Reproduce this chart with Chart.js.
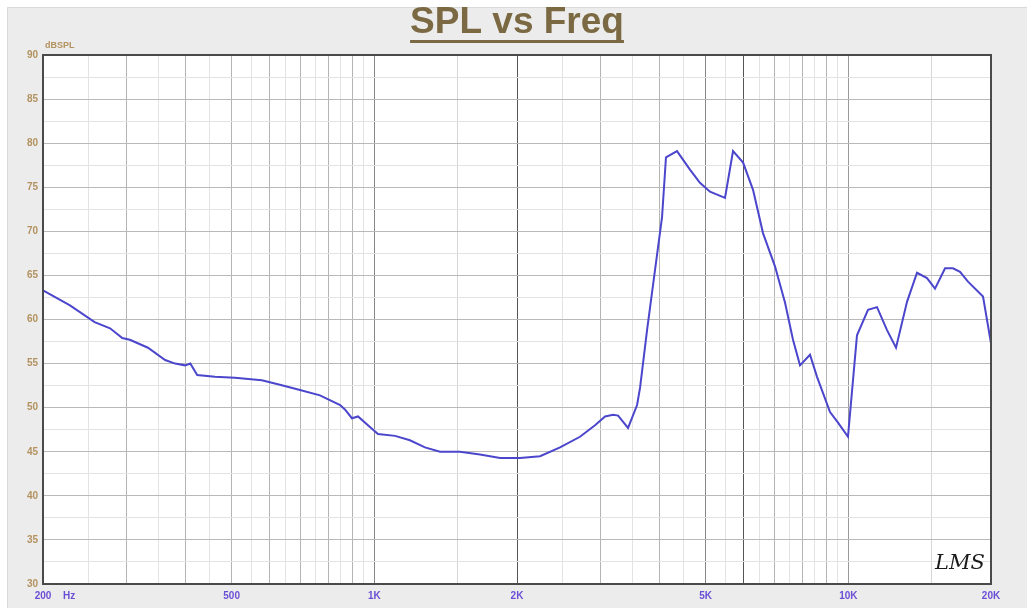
<!DOCTYPE html>
<html>
<head>
<meta charset="utf-8">
<script src="https://cdn.jsdelivr.net/npm/chart.js@4.4.1/dist/chart.umd.min.js"></script>
<style>
  html, body { margin: 0; padding: 0; background: #ffffff; }
  #wrap { width: 1027px; height: 608px; }
</style>
</head>
<body>
<div id="wrap"><canvas id="spl"></canvas></div>
<script>
// Frequency (Hz) and level (dB SPL).
const freqs = [200, 228, 257, 277, 294, 305, 333, 362, 380, 399, 409, 423, 461, 508, 579, 632, 697, 768,
  847, 867, 897, 924, 979, 1018, 1106, 1189, 1279, 1376, 1516, 1671, 1842, 2030, 2237, 2465, 2716, 2922,
  3068, 3189, 3268, 3430, 3584, 3637, 3762, 3910, 4046, 4124, 4351, 4634, 4864, 5107, 5494, 5712, 5998,
  6295, 6607, 7006, 7354, 7644, 7908, 8302, 8590, 9150, 9512, 9984, 10430, 11004, 11496, 12070, 12608,
  13300, 13962, 14656, 15238, 16000, 16626, 17206, 17886, 19240, 20000];
const spl = [63.3, 61.6, 59.7, 59.0, 57.9, 57.7, 56.8, 55.4, 55.0, 54.8, 55.0, 53.7, 53.5, 53.4, 53.1, 52.6, 52.0, 51.4,
  50.3, 49.8, 48.8, 49.0, 47.8, 47.0, 46.8, 46.3, 45.5, 45.0, 45.0, 44.7, 44.3, 44.3, 44.5, 45.5, 46.7, 48.0,
  49.0, 49.2, 49.1, 47.7, 50.3, 52.3, 58.8, 65.6, 71.6, 78.4, 79.1, 77.0, 75.5, 74.5, 73.8, 79.1, 77.8,
  74.7, 69.8, 66.0, 61.9, 57.7, 54.8, 56.0, 53.5, 49.5, 48.3, 46.7, 58.2, 61.1, 61.4, 58.8, 56.8,
  62.0, 65.3, 64.7, 63.5, 65.8, 65.8, 65.4, 64.3, 62.6, 57.3];

// Grid / tick positions
const xGrid = [200, 250, 300, 350, 400, 450, 500, 550, 600, 650, 700, 750, 800, 850, 900, 950, 1000,
  1500, 2000, 2500, 3000, 3500, 4000, 4500, 5000, 5500, 6000, 6500, 7000, 7500, 8000, 8500, 9000, 9500,
  10000, 15000, 20000];
const xLabels = { 200: '200', 500: '500', 1000: '1K', 2000: '2K', 5000: '5K', 10000: '10K', 20000: '20K' };
const yGrid = [30, 32.5, 35, 37.5, 40, 42.5, 45, 47.5, 50, 52.5, 55, 57.5, 60, 62.5, 65, 67.5, 70, 72.5,
  75, 77.5, 80, 82.5, 85, 87.5, 90];

const PLOT_LEFT = 43;
const PLOT_BOTTOM_GAP = 24;

function xGridColor(v) {
  if (v === 2000 || v === 6000) return '#555555';
  if (v === 1000 || v === 5000) return '#858585';
  if (v === 10000) return '#999999';
  if (v === 200 || v === 20000) return 'rgba(0,0,0,0)';
  if (v < 1000) return (v % 100 === 0) ? '#b4b4b4' : '#e3e3e3';
  if (v > 2000 && v < 10000) return (v % 1000 === 0) ? '#b4b4b4' : '#e3e3e3';
  return '#d6d6d6';
}

const panelPlugin = {
  id: 'panel',
  beforeDraw(chart) {
    const c = chart.ctx;
    const a = chart.chartArea;
    c.save();
    c.fillStyle = '#ffffff';
    c.fillRect(0, 0, chart.width, chart.height);
    c.fillStyle = '#ececec';
    c.fillRect(7, 7, chart.width - 7, chart.height - 7);
    c.strokeStyle = '#d9d9d9';
    c.lineWidth = 1;
    c.beginPath();
    c.moveTo(7.5, chart.height);
    c.lineTo(7.5, 7.5);
    c.lineTo(chart.width, 7.5);
    c.stroke();
    c.fillStyle = '#ffffff';
    c.fillRect(a.left, a.top, a.right - a.left, a.bottom - a.top);
    c.restore();
  },
  afterDraw(chart) {
    const c = chart.ctx;
    const a = chart.chartArea;
    c.save();
    // frame
    c.strokeStyle = '#4a4a4a';
    c.lineWidth = 2;
    c.strokeRect(a.left, a.top, a.right - a.left, a.bottom - a.top);
    // title underline
    const t = chart.options.plugins.title;
    c.font = 'bold ' + t.font.size + 'px ' + t.font.family;
    const w = c.measureText(t.text).width;
    const cx = (a.left + a.right) / 2;
    c.strokeStyle = t.color;
    c.lineWidth = 3;
    c.beginPath();
    c.moveTo(cx - w / 2, 41.5);
    c.lineTo(cx + w / 2, 41.5);
    c.stroke();
    // unit labels
    c.font = 'bold 9px "Liberation Sans", Arial, sans-serif';
    c.fillStyle = '#b39260';
    c.textBaseline = 'middle';
    c.textAlign = 'left';
    c.fillText('dBSPL', a.left + 2, a.top - 9);
    c.font = 'bold 10px "Liberation Sans", Arial, sans-serif';
    c.fillStyle = '#6a4fd6';
    c.fillText('Hz', a.left + 20, a.bottom + 12);
    // LMS mark
    c.font = 'italic 21px "DejaVu Serif", serif';
    c.fillStyle = '#1a1a1a';
    c.textAlign = 'center';
    c.fillText('LMS', a.right - 31, a.bottom - 20);
    c.restore();
  }
};

new Chart(document.getElementById('spl'), {
  type: 'line',
  data: {
    datasets: [{
      data: freqs.map((f, i) => ({ x: f, y: spl[i] })),
      borderColor: '#4b46cc',
      borderWidth: 2,
      pointRadius: 0,
      tension: 0,
      fill: false
    }]
  },
  options: {
    responsive: true,
    maintainAspectRatio: false,
    animation: false,
    layout: { padding: { left: 0, right: 36, top: 0, bottom: 0 } },
    plugins: {
      legend: { display: false },
      tooltip: { enabled: false },
      title: {
        display: true,
        fullSize: false,
        text: 'SPL vs Freq',
        color: '#7a6942',
        font: { family: '"Liberation Sans", Arial, sans-serif', size: 37, weight: 'bold', lineHeight: 1.0 },
        padding: { top: 4, bottom: 14 }
      }
    },
    scales: {
      x: {
        type: 'logarithmic',
        min: 200,
        max: 20000,
        afterBuildTicks: (s) => { s.ticks = xGrid.map(v => ({ value: v })); },
        afterFit: (s) => { s.height = PLOT_BOTTOM_GAP; },
        border: { display: false },
        grid: {
          drawTicks: false,
          lineWidth: 1,
          color: (ctx) => xGridColor(ctx.tick ? ctx.tick.value : 0)
        },
        ticks: {
          autoSkip: false,
          maxRotation: 0,
          padding: 6,
          color: '#6a4fd6',
          font: { family: '"Liberation Sans", Arial, sans-serif', size: 10, weight: 'bold' },
          callback: (v) => xLabels[v] || ''
        }
      },
      y: {
        min: 30,
        max: 90,
        afterBuildTicks: (s) => { s.ticks = yGrid.map(v => ({ value: v })); },
        afterFit: (s) => { s.width = PLOT_LEFT; },
        border: { display: false },
        grid: {
          drawTicks: false,
          lineWidth: 1,
          color: (ctx) => {
            const v = ctx.tick ? ctx.tick.value : 0;
            if (v === 30 || v === 90) return 'rgba(0,0,0,0)';
            return (v % 5 === 0) ? '#b9b9b9' : '#e3e3e3';
          }
        },
        ticks: {
          autoSkip: false,
          padding: 5,
          color: '#b39260',
          font: { family: '"Liberation Sans", Arial, sans-serif', size: 10, weight: 'bold' },
          callback: (v) => (v % 5 === 0) ? String(v) : ''
        }
      }
    }
  },
  plugins: [panelPlugin]
});
</script>
</body>
</html>
